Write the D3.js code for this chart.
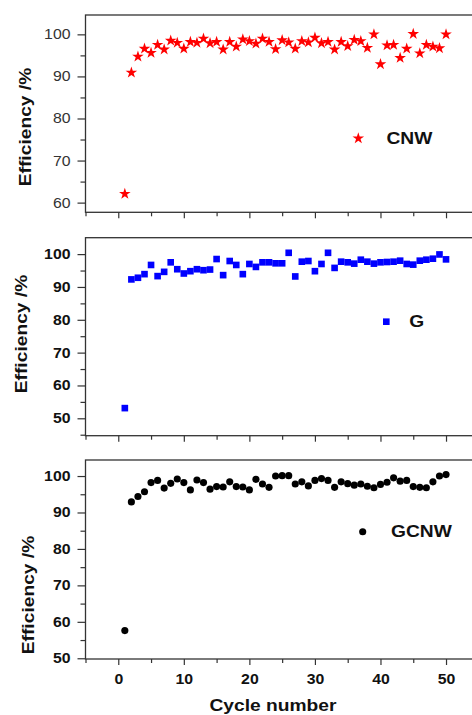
<!DOCTYPE html>
<html><head><meta charset="utf-8">
<script src="https://cdn.jsdelivr.net/npm/d3@7/dist/d3.min.js"></script>
<style>body{margin:0;background:#fff}svg{display:block}text{font-family:"Liberation Sans",Arial,sans-serif}</style>
</head><body><svg id="c" width="472" height="715"></svg>
<script>
const cycles = d3.range(1, 51);
const cnw = [62.1, 90.9, 94.7, 96.6, 95.6, 97.5, 96.4, 98.5, 98.0, 96.6, 98.2, 98.0, 99.0, 97.9, 98.2, 96.4, 98.2, 97.1, 98.8, 98.4, 97.8, 99.0, 98.2, 96.5, 98.6, 98.1, 96.6, 98.4, 98.1, 99.2, 97.9, 98.2, 96.4, 98.2, 97.2, 98.7, 98.4, 96.8, 100.0, 92.9, 97.4, 97.5, 94.4, 96.6, 100.1, 95.5, 97.5, 97.1, 96.7, 100.0];
const g = [53.1, 92.3, 92.8, 93.9, 96.7, 93.3, 94.6, 97.5, 95.4, 94.1, 94.8, 95.4, 95.1, 95.3, 98.5, 93.6, 97.9, 96.7, 93.9, 97.0, 96.1, 97.5, 97.5, 97.2, 97.2, 100.4, 93.2, 97.7, 97.9, 94.8, 97.0, 100.4, 95.8, 97.7, 97.5, 97.1, 98.3, 97.7, 97.1, 97.5, 97.6, 97.7, 98.0, 97.0, 96.8, 98.0, 98.3, 98.6, 99.9, 98.4];
const gcnw = [57.6, 92.9, 94.4, 95.7, 98.2, 98.8, 96.7, 98.0, 99.2, 98.2, 96.2, 98.9, 98.2, 96.4, 97.1, 97.0, 98.4, 97.1, 97.0, 96.2, 99.1, 97.8, 96.9, 100.0, 100.1, 100.1, 97.8, 98.4, 97.3, 98.8, 99.3, 98.8, 96.9, 98.4, 97.9, 97.5, 97.8, 97.2, 96.8, 97.7, 98.3, 99.5, 98.6, 98.8, 97.1, 96.9, 96.8, 98.4, 100.0, 100.4];
const seriesNames = ["CNW", "G", "GCNW"];
const xTicks = [0, 10, 20, 30, 40, 50];
const yTicks1 = [60, 70, 80, 90, 100];
const yTicks2 = [50, 60, 70, 80, 90, 100];
const yTitle = "Efficiency /%";
const xTitle = "Cycle number";

const svg = d3.select("#c");
const x = d3.scaleLinear().domain([-5, 55]).range([85.5, 478.8]);
const FONT = '"Liberation Sans",Arial,sans-serif';

const panels = [
  {data: cnw, name: seriesNames[0], dom: [57.7, 104.6], rng: [212.3, 15], ticks: yTicks1, color: "#ff0000", sym: d3.symbolStar, size: 42, bold: false,
   leg: [358.3, 138.3], legText: 386.5, titleX: 25, titleY: 127},
  {data: g, name: seriesNames[1], dom: [44.7, 105], rng: [435.7, 237.7], ticks: yTicks2, color: "#0000ff", sym: d3.symbolSquare, size: 44, bold: true,
   leg: [386.3, 321.7], legText: 409.3, titleX: 21, titleY: 334},
  {data: gcnw, name: seriesNames[2], dom: [49.8, 104.4], rng: [659, 460], ticks: yTicks2, color: "#000000", sym: d3.symbolCircle, size: 40, bold: true,
   leg: [362.7, 531.7], legText: 391, titleX: 28, titleY: 595}
];

panels.forEach((p, i) => {
  const y = d3.scaleLinear().domain(p.dom).range(p.rng);
  const gp = svg.append("g");
  gp.append("rect").attr("x", x.range()[0]).attr("y", p.rng[1])
    .attr("width", x.range()[1] - x.range()[0]).attr("height", p.rng[0] - p.rng[1])
    .attr("fill", "none").attr("stroke", "#333").attr("stroke-width", 1.3);
  const minorY = d3.range(Math.ceil(p.dom[0] / 5) * 5, p.dom[1], 5).filter(v => v % 10 !== 0);
  gp.append("g").attr("transform", `translate(${x.range()[0]},0)`)
    .call(d3.axisLeft(y).tickValues(minorY).tickSize(5).tickFormat(""))
    .call(a => a.select(".domain").remove())
    .call(a => a.selectAll("line").attr("stroke", "#333").attr("stroke-width", 1.2));
  gp.append("g").attr("transform", `translate(${x.range()[0]},0)`)
    .call(d3.axisLeft(y).tickValues(p.ticks).tickSize(8).tickPadding(7).tickFormat(d3.format("d")))
    .call(a => a.select(".domain").remove())
    .call(a => a.selectAll("line").attr("stroke", "#333").attr("stroke-width", 1.2))
    .call(a => a.selectAll("text").attr("font-size", 14).attr("font-weight", p.bold ? "bold" : "normal")
      .attr("fill", p.bold ? "#111" : "#333").attr("font-family", FONT));
  const minorX = [-5, 5, 15, 25, 35, 45];
  gp.append("g").attr("transform", `translate(0,${p.rng[0]})`)
    .call(d3.axisBottom(x).tickValues(minorX).tickSize(4).tickFormat(""))
    .call(a => a.select(".domain").remove())
    .call(a => a.selectAll("line").attr("stroke", "#333").attr("stroke-width", 1.2));
  gp.append("g").attr("transform", `translate(0,${p.rng[0]})`)
    .call(d3.axisBottom(x).tickValues(xTicks).tickSize(6).tickPadding(9).tickFormat(i === 2 ? d3.format("d") : ""))
    .call(a => a.select(".domain").remove())
    .call(a => a.selectAll("line").attr("stroke", "#333").attr("stroke-width", 1.2))
    .call(a => a.selectAll("text").attr("font-size", 14).attr("font-weight", "bold").attr("fill", "#111")
      .attr("font-family", FONT));
  gp.append("text").attr("transform", `translate(${p.titleX},${p.titleY}) rotate(-90)`)
    .attr("text-anchor", "middle").attr("dominant-baseline", "central")
    .attr("font-size", 17).attr("font-weight", "bold").attr("fill", "#111").text(yTitle);
  const sym = d3.symbol().type(p.sym).size(p.size);
  gp.append("g").selectAll("path").data(p.data).join("path")
    .attr("transform", (d, j) => `translate(${x(cycles[j])},${y(d)})`)
    .attr("d", sym).attr("fill", p.color);
  gp.append("path").attr("transform", `translate(${p.leg[0]},${p.leg[1]})`).attr("d", sym).attr("fill", p.color);
  gp.append("text").attr("x", p.legText).attr("y", p.leg[1]).attr("dominant-baseline", "central")
    .attr("font-size", 17).attr("font-weight", "bold").attr("fill", "#111").text(p.name);
});

svg.append("text").attr("x", 273).attr("y", 705).attr("text-anchor", "middle").attr("dominant-baseline", "central")
  .attr("font-size", 17).attr("font-weight", "bold").attr("fill", "#111").text(xTitle);

// the reference glyphs are drawn a little wider than Liberation Sans
svg.selectAll("text").each(function() {
  const w = this.getComputedTextLength();
  if (w > 0) d3.select(this).attr("textLength", w * 1.13).attr("lengthAdjust", "spacingAndGlyphs");
});
</script></body></html>
